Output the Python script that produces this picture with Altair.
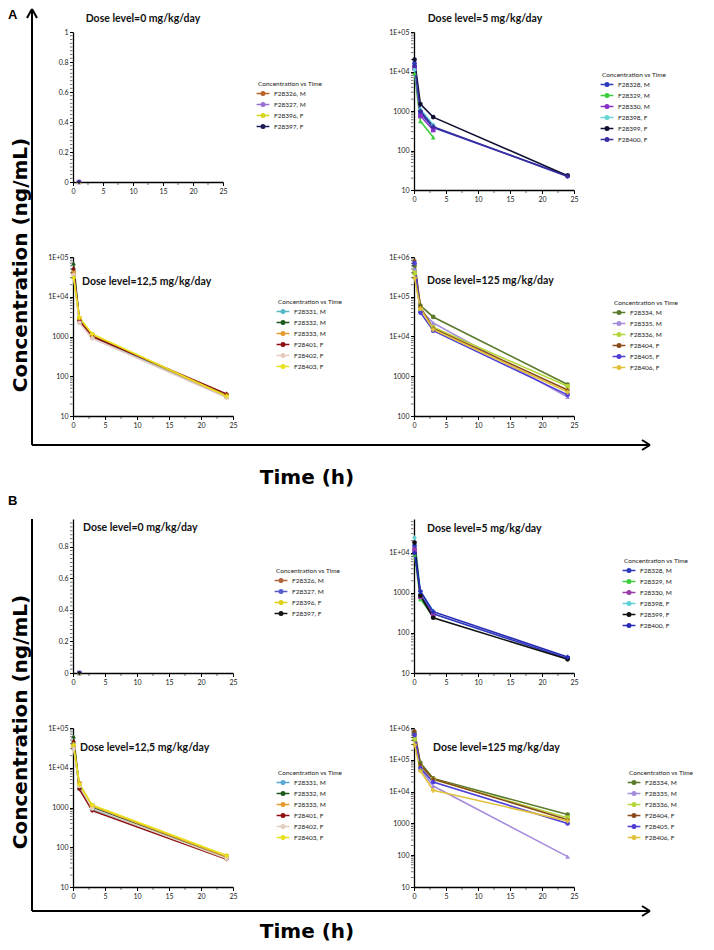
import altair as alt
import pandas as pd

# ---------------- data ----------------
T4 = [0.083, 1, 3, 24]
T0 = [1]

ids_0 = ["F28326, M", "F28327, M", "F28396, F", "F28397, F"]
ids_5 = ["F28328, M", "F28329, M", "F28330, M", "F28398, F", "F28399, F", "F28400, F"]
ids_12 = ["F28331, M", "F28332, M", "F28333, M", "F28401, F", "F28402, F", "F28403, F"]
ids_125 = ["F28334, M", "F28335, M", "F28336, M", "F28404, F", "F28405, F", "F28406, F"]

conc_A0 = [[0], [0], [0], [0]]
conc_A5 = [
    [16000, 900, 380, 23],
    [9000, 550, 215, None],
    [12000, 750, 330, None],
    [11000, 1100, 450, None],
    [20000, 1500, 700, 23],
    [14000, 1000, 400, 22],
]
conc_A12 = [
    [45000, 2400, 950, 30],
    [70000, 2600, 1050, 33],
    [40000, 2800, 1100, 31],
    [50000, 2500, 1000, 36],
    [35000, 2200, 900, 29],
    [30000, 3000, 1150, 32],
]
conc_A125 = [
    [600000, 60000, 31000, 620],
    [500000, 45000, 22000, 300],
    [400000, 50000, 17000, 560],
    [800000, 55000, 16000, 450],
    [700000, 40000, 14000, 340],
    [300000, 50000, 15000, 400],
]
conc_B0 = [[0], [0], [0], [0]]
conc_B5 = [
    [15000, 900, 300, 23],
    [9000, 700, 260, None],
    [12000, 800, 280, None],
    [24000, 1100, 350, None],
    [18000, 850, 240, 22],
    [10000, 1100, 340, 25],
]
conc_B12 = [
    [40000, 3000, 900, 60],
    [62000, 3200, 1000, 55],
    [35000, 4000, 1100, 58],
    [45000, 2900, 830, 50],
    [30000, 3500, 950, 52],
    [38000, 3800, 1150, 62],
]
conc_B125 = [
    [700000, 80000, 26000, 1900],
    [500000, 50000, 15000, 90],
    [450000, 60000, 24000, 1500],
    [800000, 70000, 25000, 1300],
    [600000, 55000, 20000, 1000],
    [300000, 45000, 11000, 1200],
]

col_A0 = ["#b5642a", "#9a6fd0", "#d6d61c", "#1c1c5a"]
col_B0 = ["#b0643a", "#5a5ad0", "#e0d01a", "#151515"]
col_A5 = ["#2b3bbd", "#3ccc3c", "#8a2fc8", "#66d6d6", "#111133", "#3a2fa0"]
col_B5 = ["#2b3bbd", "#3ccc3c", "#9a3aa8", "#5fd0d8", "#111111", "#2a2ab8"]
col_A12 = ["#55b8c4", "#1f5a1f", "#e39a2e", "#8e1010", "#e6c9c0", "#e8e21c"]
col_B12 = ["#5aa8d8", "#1f5a1f", "#e39a2e", "#8e1010", "#e0cfc0", "#e8e21c"]
col_125 = ["#5b7a2b", "#a58bdc", "#b5d63c", "#8b4a1a", "#4f3fd6", "#e2c23c"]

shp_4 = ["circle", "square", "triangle-up", "diamond"]
shp_6 = ["circle", "triangle-up", "square", "diamond", "circle", "cross"]

x_major = [0, 5, 10, 15, 20, 25]
x_minor = [2.5, 7.5, 12.5, 17.5, 22.5]

FONT = "Lato"
BIG = "DejaVu Sans"
LEG_SYMBOL = "M-1.6,0H1.6M-0.45,0A0.45,0.45,0,1,0,0.45,0A0.45,0.45,0,1,0,-0.45,0"


def log_minor(lo, hi):
    out = []
    d = lo
    while d < hi:
        for k in range(2, 10):
            v = k * d
            if v < hi:
                out.append(v)
        d *= 10
    return out


def lin_minor(hi, step=0.025):
    out = []
    k = 1
    while k * step < hi:
        v = round(k * step, 4)
        if abs(v / 0.2 - round(v / 0.2)) > 1e-6:
            out.append(v)
        k += 1
    return out


def panel(ids, conc, times, colors, shapes, ydom, ylog, yvals, title, tx, ty, talign, w, h, lx, ly):
    rows = []
    for i, (sid, vals) in enumerate(zip(ids, conc)):
        for t, c in zip(times, vals):
            if c is not None:
                rows.append({"t": t, "c": c, "id": sid, "mk": "m%d" % i})
    df = pd.DataFrame(rows)
    mk_dom = ["m%d" % i for i in range(len(ids))]
    if ylog:
        ys = alt.Scale(type="log", domain=ydom, nice=False)
        yaxis = alt.Axis(values=yvals, title=None, labelOverlap=False, ticks=True,
                         labelExpr="datum.value >= 10000 ? '1E+0' + round(log(datum.value)/LN10) : format(datum.value, 'd')")
        minor = log_minor(ydom[0], ydom[1])
    else:
        ys = alt.Scale(domain=ydom, nice=False, zero=False)
        yaxis = alt.Axis(values=yvals, title=None, format="~g", labelOverlap=False, ticks=True)
        minor = lin_minor(ydom[1])
    xs = alt.Scale(domain=[0, 25], nice=False)
    xaxis = alt.Axis(values=x_major, title=None, format="d", labelOverlap=False, labelFlush=False, ticks=True)
    cscale = alt.Scale(domain=ids, range=colors)
    legend = alt.Legend(title="Concentration vs Time", orient="none", legendX=lx, legendY=ly,
                        titleFontSize=6.5, titleFontWeight="normal", titleFont=FONT, titleColor="#222",
                        labelFontSize=6.5, labelFont=FONT, labelColor="#222",
                        symbolType=LEG_SYMBOL, symbolSize=64, symbolStrokeWidth=1.4,
                        rowPadding=1, titlePadding=1, labelOffset=6)
    base = alt.Chart(df)
    lines = base.mark_line(strokeWidth=1.6).encode(
        x=alt.X("t:Q", scale=xs, axis=xaxis),
        y=alt.Y("c:Q", scale=ys, axis=yaxis),
        color=alt.Color("id:N", scale=cscale, legend=legend),
    )
    pts = base.mark_point(filled=True, size=22, opacity=1).encode(
        x=alt.X("t:Q", scale=xs, axis=xaxis),
        y=alt.Y("c:Q", scale=ys, axis=yaxis),
        color=alt.Color("id:N", scale=cscale, legend=legend),
        shape=alt.Shape("mk:N", scale=alt.Scale(domain=mk_dom, range=shapes), legend=None),
    )
    ymin = alt.Chart(pd.DataFrame({"t": [0.0] * len(minor), "c": minor})).mark_tick(
        orient="horizontal", size=2.5, thickness=0.8, color="black").encode(
        y=alt.Y("c:Q", scale=ys, axis=yaxis), x=alt.value(-1.8))
    xmin = alt.Chart(pd.DataFrame({"t": x_minor})).mark_tick(
        orient="vertical", size=2.5, thickness=0.8, color="black").encode(
        x=alt.X("t:Q", scale=xs, axis=xaxis), y=alt.value(h + 1.8))
    ttl = alt.Chart(pd.DataFrame({"s": [0]})).mark_text(
        text=title, align=talign, baseline="middle", font=FONT, fontWeight="bold",
        fontSize=10.5, color="#111").encode(x=alt.value(tx), y=alt.value(ty))
    return alt.layer(lines, pts, ymin, xmin, ttl).properties(width=w, height=h)


def spacer(w, h):
    return alt.Chart(pd.DataFrame({"s": [0]})).mark_point(opacity=0, size=0).encode(
        x=alt.value(0), y=alt.value(0)).properties(width=w, height=h)


def seg(x1, y1, x2, y2, sw=2):
    return alt.Chart(pd.DataFrame({"s": [0]})).mark_rule(color="black", strokeWidth=sw).encode(
        x=alt.value(x1), x2=alt.value(x2), y=alt.value(y1), y2=alt.value(y2))


def txt(s, x, y, size, angle=0, align="center", baseline="middle", font=BIG):
    return alt.Chart(pd.DataFrame({"s": [0]})).mark_text(
        text=s, align=align, baseline=baseline, font=font, fontWeight="bold",
        fontSize=size, angle=angle, color="black").encode(x=alt.value(x), y=alt.value(y))


# decoration cell (origin = top-left of whole figure)
deco = alt.layer(
    txt("A", 0, 6, 13, align="left", font="Liberation Sans"),
    seg(24, 0, 24, 436), seg(24, 0, 19, 9), seg(24, 0, 29, 9),
    seg(24, 436, 642, 436), seg(642, 436, 634, 431), seg(642, 436, 634, 441),
    txt("Concentration (ng/mL)", 3, 256, 20, angle=270, baseline="top"),
    txt("Time (h)", 299, 469, 20),
    txt("B", 0, 492, 13, align="left", font="Liberation Sans"),
    seg(24, 510, 24, 902),
    seg(24, 902, 642, 902), seg(642, 902, 634, 897), seg(642, 902, 634, 907),
    txt("Concentration (ng/mL)", 3, 713, 20, angle=270, baseline="top"),
    txt("Time (h)", 299, 923, 20),
).properties(width=65, height=23)

pA0 = panel(ids_0, conc_A0, T0, col_A0, shp_4, [0, 1], False, [0, 0.2, 0.4, 0.6, 0.8, 1],
            "Dose level=0 mg/kg/day", 70, -13, "center", 150, 150, 185, 49)
pA1 = panel(ids_5, conc_A5, T4, col_A5, shp_6, [10, 100000], True, [10, 100, 1000, 10000, 100000],
            "Dose level=5 mg/kg/day", 71, -13, "center", 160, 158, 188, 40)
pA2 = panel(ids_12, conc_A12, T4, col_A12, shp_6, [10, 100000], True, [10, 100, 1000, 10000, 100000],
            "Dose level=12,5 mg/kg/day", 9, 25, "left", 160, 159, 205, 42)
pA3 = panel(ids_125, conc_A125, T4, col_125, shp_6, [100, 1000000], True, [100, 1000, 10000, 100000, 1000000],
            "Dose level=125 mg/kg/day", 13, 24, "left", 160, 159, 200, 43)
pB0 = panel(ids_0, conc_B0, T0, col_B0, shp_4, [0, 0.975], False, [0, 0.2, 0.4, 0.6, 0.8],
            "Dose level=0 mg/kg/day", 10, 9, "left", 160, 154, 203, 49)
pB1 = panel(ids_5, conc_B5, T4, col_B5, shp_6, [10, 70000], True, [10, 100, 1000, 10000],
            "Dose level=5 mg/kg/day", 13, 10, "left", 160, 154, 210, 39)
pB2 = panel(ids_12, conc_B12, T4, col_B12, shp_6, [10, 100000], True, [10, 100, 1000, 10000, 100000],
            "Dose level=12,5 mg/kg/day", 7, 20, "left", 160, 159, 205, 42)
pB3 = panel(ids_125, conc_B125, T4, col_125, shp_6, [10, 1000000], True, [10, 100, 1000, 10000, 100000, 1000000],
            "Dose level=125 mg/kg/day", 19, 20, "left", 160, 159, 215, 42)

cells = [
    deco, spacer(1, 1), spacer(181, 1), spacer(1, 1),
    spacer(1, 1), pA0, spacer(1, 1), pA1,
    spacer(1, 67), spacer(1, 1), spacer(1, 1), spacer(1, 1),
    spacer(1, 1), pA2, spacer(1, 1), pA3,
    spacer(1, 103), spacer(1, 1), spacer(1, 1), spacer(1, 1),
    spacer(1, 1), pB0, spacer(1, 1), pB1,
    spacer(1, 55), spacer(1, 1), spacer(1, 1), spacer(1, 1),
    spacer(1, 1), pB2, spacer(1, 1), pB3,
]

chart = alt.concat(*cells, columns=4, spacing=0, bounds="flush").resolve_scale(
    color="independent", shape="independent"
).properties(padding={"left": 0, "top": 0, "right": 2, "bottom": 5}, background="white").configure_view(
    stroke=None
).configure_axis(
    domainColor="black", domainWidth=1.3, tickColor="black", tickWidth=1, tickSize=3.5,
    labelFontSize=7, labelFont=FONT, labelColor="#222", grid=False, labelPadding=1.5,
    labelFlush=False, labelOverlap=False
)

chart.save("out.html", embed_options={"renderer": "svg", "actions": False})
